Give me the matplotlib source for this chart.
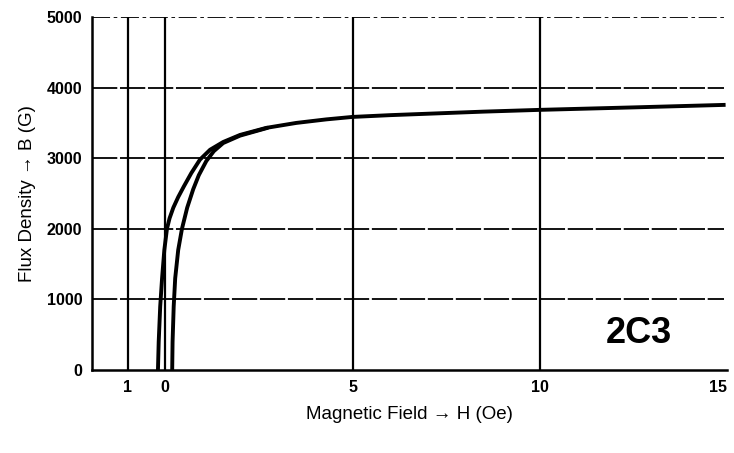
import matplotlib.pyplot as plt

# B-H curve, ferrite 2C3
h_desc = [-0.19, -0.17, -0.13, -0.08, -0.02, 0.05, 0.12, 0.22, 0.35, 0.5, 0.7, 0.93, 1.2, 1.55,
          2.0, 2.7, 3.5, 4.3, 5.0, 6.0, 7.0, 8.5, 10.0, 12.5, 14.9]
b_desc = [0, 400, 900, 1300, 1700, 2000, 2150, 2300, 2450, 2600, 2790, 2980, 3120, 3230,
          3330, 3430, 3500, 3550, 3585, 3610, 3630, 3660, 3685, 3720, 3755]
h_init = [0.19, 0.2, 0.23, 0.27, 0.35, 0.45, 0.59, 0.75, 0.9, 1.1, 1.3, 1.55, 2.0, 2.7]
b_init = [0, 400, 900, 1300, 1700, 2000, 2300, 2560, 2760, 2960, 3100, 3215, 3320, 3425]

xticks = [-1, 0, 5, 10, 15]
xtick_labels = ['1', '0', '5', '10', '15']
yticks = [0, 1000, 2000, 3000, 4000, 5000]

fig = plt.figure(figsize=(7.34, 4.53), dpi=100)
ax = fig.add_axes([0.1253, 0.183, 0.8657, 0.7795])

for y in [1000, 2000, 3000, 4000]:
    ax.plot([-1.95, 14.9], [y, y], color='black', lw=1.3, ls=(0, (14, 1.5)))
ax.plot([-1.95, 14.9], [5000, 5000], color='black', lw=1.3, ls=(0, (10, 2, 2, 2)))
for x in [-1, 0, 5, 10]:
    ax.plot([x, x], [0, 5000], color='black', lw=1.6)

ax.plot(h_desc, b_desc, color='black', lw=2.8, solid_joinstyle='round')
ax.plot(h_init, b_init, color='black', lw=2.8, solid_joinstyle='round')

ax.set_xlim(-1.95, 15)
ax.set_ylim(0, 5000)
ax.spines['top'].set_visible(False)
ax.spines['right'].set_visible(False)
ax.spines['left'].set_linewidth(1.8)
ax.spines['bottom'].set_linewidth(1.8)
ax.set_xticks(xticks)
ax.set_xticklabels(xtick_labels)
ax.set_yticks(yticks)
ax.tick_params(axis='x', length=0, labelsize=11.5, pad=7)
ax.tick_params(axis='y', length=0, labelsize=11.5, pad=7)
for t in ax.get_xticklabels() + ax.get_yticklabels():
    t.set_fontweight('bold')
    t.set_family('Liberation Sans')
# last label sits at the figure edge
ax.get_xticklabels()[-1].set_horizontalalignment('right')

ax.set_xlabel('Magnetic Field → H (Oe)', fontsize=13.5, family='Liberation Sans', labelpad=8)
ax.set_ylabel('Flux Density → B (G)', fontsize=13.5, family='Liberation Sans', labelpad=8)
ax.text(12.65, 380, '2C3', fontsize=26, fontweight='bold', family='Liberation Sans',
        ha='center', va='baseline')

fig.savefig('out.png', dpi=100)
